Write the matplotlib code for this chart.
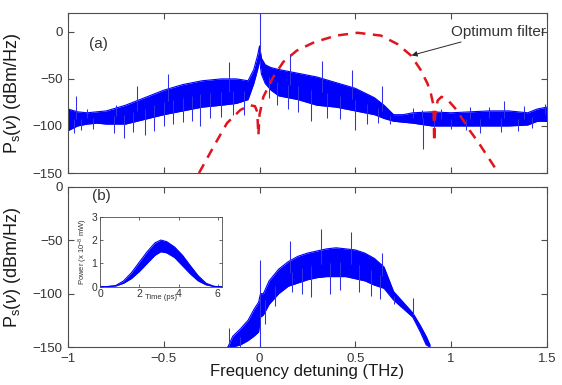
import numpy as np
import matplotlib
matplotlib.use("Agg")
import matplotlib.pyplot as plt

plt.rcParams['font.family'] = ['Liberation Sans', 'DejaVu Sans']
plt.rcParams['mathtext.fontset'] = 'custom'
plt.rcParams['mathtext.rm'] = 'Liberation Sans'
plt.rcParams['mathtext.it'] = 'Liberation Sans:italic'

# ---------------- data ----------------
# panel (a): envelope of the noisy spectrum
a_freq = [-1.0, -0.95, -0.9, -0.85, -0.8, -0.7, -0.6, -0.5, -0.4, -0.3, -0.2, -0.12,
          -0.06, -0.03, -0.01, 0.0, 0.01, 0.03, 0.06, 0.1, 0.2, 0.3, 0.4, 0.5, 0.6,
          0.65, 0.7, 0.75, 0.8, 0.9, 1.0, 1.1, 1.2, 1.3, 1.4, 1.45, 1.5]
a_upper = [-82, -85, -86, -85, -84, -78, -70, -62, -56, -52, -50, -50,
           -52, -40, -25, -15, -28, -35, -38, -40, -44, -48, -54, -60, -70,
           -78, -88, -88, -86, -85, -86, -85, -84, -84, -86, -82, -80]
a_lower = [-105, -100, -98, -97, -98, -98, -93, -88, -84, -80, -78, -76,
           -72, -55, -40, -30, -45, -55, -62, -68, -72, -78, -80, -84, -88,
           -92, -95, -96, -97, -100, -100, -100, -100, -100, -99, -95, -95]
a_spk_f = [-0.957, -0.64, -0.48, -0.16, 0.0, 0.16, 0.324, 0.482, 0.639, 0.80, 1.274,
           -0.9, -0.75, 0.85, 0.95, 1.1, 1.2, 1.38, 1.49,
           -0.97, -0.93, -0.87, -0.76, -0.71, -0.66, -0.6, -0.55, -0.5, -0.45, -0.4,
           -0.35, -0.31, -0.26, -0.2, -0.14, -0.08, 0.05, 0.09, 0.15, 0.2, 0.27, 0.35,
           0.42, 0.5, 0.56, 0.62, 0.68, 0.856, 0.91, 1.0, 1.08, 1.15, 1.26, 1.35, 1.42]
a_spk_v = [-68, -58, -45, -32, 20, -24, -31, -41, -58, -81, -74,
           -82, -78, -83, -82, -80, -80, -79, -77,
           -108, -104, -103, -107, -113, -106, -110, -105, -100, -98, -96,
           -95, -100, -92, -90, -88, -88, -70, -78, -82, -85, -95, -92,
           -93, -104, -98, -97, -98, -125, -110, -103, -104, -108, -106, -105, -102]

# optimum filter (red dashed)
f_freq = [-0.316, -0.24, -0.17, -0.10, -0.05, -0.024, -0.012, -0.006, 0.0, 0.02, 0.072,
          0.124, 0.194, 0.286, 0.40, 0.512, 0.634, 0.72, 0.79, 0.84, 0.877, 0.895,
          0.908, 0.912, 0.916, 0.93, 0.95, 0.99, 1.029, 1.098, 1.141, 1.225, 1.245]
f_val = [-150, -122, -97, -83, -78, -79, -85, -110, -88, -69, -48,
         -32, -20, -11, -4, -1, -4, -13, -25, -40, -55, -66,
         -78, -117, -90, -73, -69, -74, -83, -105, -117, -143, -150]

# panel (b): envelope of the filtered spectrum
b_freq = [-0.165, -0.14, -0.1, -0.06, -0.03, -0.005, 0.005, 0.02, 0.05, 0.1, 0.15, 0.2,
          0.25, 0.3, 0.35, 0.4, 0.45, 0.5, 0.55, 0.6, 0.65, 0.7, 0.75, 0.8, 0.84, 0.87, 0.89]
b_upper = [-150, -140, -133, -125, -115, -108, -100, -100, -88, -77, -70, -65,
           -62, -60, -58, -57, -58, -59, -62, -67, -75, -98, -108, -118, -130, -140, -148]
b_lower = [-150, -150, -148, -144, -140, -136, -122, -120, -110, -100, -93, -90,
           -87, -85, -84, -84, -84, -86, -88, -92, -95, -106, -114, -122, -136, -148, -150]
b_spk_f = [-0.16, 0.0, 0.16, 0.32, 0.48, 0.639, 0.80,
           -0.1, 0.0, 0.03, 0.08, 0.17, 0.22, 0.27, 0.37, 0.42, 0.52, 0.58, 0.63, 0.7]
b_spk_v = [-132, -68, -51, -39, -42, -62, -104,
           -150, -150, -128, -112, -98, -100, -103, -100, -97, -98, -102, -105, -110]

# inset: output pulse
t_ps = [0.0, 0.3, 0.8, 1.2, 1.6, 2.0, 2.4, 2.8, 3.1, 3.4, 3.8, 4.2, 4.6, 5.0, 5.4, 5.8, 6.0, 6.2]
p_upper = [0, 0, 0.05, 0.25, 0.6, 1.05, 1.5, 1.88, 2.0, 1.93, 1.7, 1.35, 0.9, 0.47, 0.15, 0.02, 0, 0]
p_lower = [0, 0, 0.03, 0.15, 0.35, 0.65, 1.0, 1.35, 1.5, 1.45, 1.25, 0.9, 0.55, 0.25, 0.08, 0.01, 0, 0]

xticks = [-1, -0.5, 0, 0.5, 1, 1.5]
xticklabels = ['−1', '−0.5', '0', '0.5', '1', '1.5']

# ---------------- figure ----------------
BLUE = '#0000ff'
SPK = '#3030e8'
RED = '#e0141c'
FRAME = '0.3'

fig = plt.figure(figsize=(5.62, 3.85), dpi=100)
axA = fig.add_axes([0.121, 0.5506, 0.852, 0.4156])
axB = fig.add_axes([0.121, 0.0987, 0.852, 0.4156])


def style(ax):
    ax.tick_params(direction='in', top=True, right=True, length=4, width=0.8,
                   labelsize=9.5, colors=FRAME, labelcolor='0.2', pad=4)
    for s in ax.spines.values():
        s.set_color(FRAME)
        s.set_linewidth(0.8)


def spectrum(ax, fr, up, lo, sf, sv):
    fr = np.asarray(fr); up = np.asarray(up); lo = np.asarray(lo)
    ax.fill_between(fr, lo, up, color=BLUE, lw=0, zorder=2)
    ax.plot(fr, up, color=BLUE, lw=0.8, zorder=2)
    ax.plot(fr, lo, color=BLUE, lw=0.8, zorder=2)
    mid = (np.interp(sf, fr, up) + np.interp(sf, fr, lo)) / 2
    ax.vlines(sf, mid, sv, color=SPK, lw=0.75, zorder=2)


# panel (a)
spectrum(axA, a_freq, a_upper, a_lower, a_spk_f, a_spk_v)
axA.plot(f_freq, f_val, color=RED, lw=1.8, ls=(0, (4, 3)), zorder=3)
axA.set_xlim(-1, 1.5)
axA.set_ylim(-150, 20)
axA.set_yticks([-150, -100, -50, 0])
axA.set_yticklabels(['−150', '−100', '−50', '0'])
axA.set_xticks(xticks)
axA.set_xticklabels([])
axA.text(-0.84, -13, '(a)', fontsize=11, color='0.2', va='center', ha='center')
ann = axA.annotate('Optimum filter', xy=(0.794, -25), xytext=(1.0, 0),
                   fontsize=11, color='0.2', va='center', ha='left',
                   arrowprops=dict(arrowstyle='-|>', color='0.15', lw=0.7,
                                   mutation_scale=8, shrinkA=1, shrinkB=0))
ann.set_clip_on(True)
axA.set_ylabel(r'P$_{\rm s}$($\nu$) (dBm/Hz)', fontsize=13, color='0.1')
axA.yaxis.set_label_coords(-0.095, 0.5)
style(axA)

# panel (b)
spectrum(axB, b_freq, b_upper, b_lower, b_spk_f, b_spk_v)
axB.set_xlim(-1, 1.5)
axB.set_ylim(-150, 0)
axB.set_yticks([-150, -100, -50, 0])
axB.set_yticklabels(['−150', '−100', '−50', '0'])
axB.set_xticks(xticks)
axB.set_xticklabels(xticklabels)
axB.text(-0.824, -8, '(b)', fontsize=11, color='0.2', va='center', ha='center')
axB.set_ylabel(r'P$_{\rm s}$($\nu$) (dBm/Hz)', fontsize=13, color='0.1')
axB.yaxis.set_label_coords(-0.095, 0.5)
axB.set_xlabel('Frequency detuning (THz)', fontsize=12, color='0.1')
axB.xaxis.set_label_coords(0.5, -0.105)
style(axB)

# inset
axI = fig.add_axes([0.178, 0.2553, 0.2165, 0.1818])
axI.fill_between(t_ps, p_lower, p_upper, color=BLUE, lw=0)
axI.plot(t_ps, p_upper, color=BLUE, lw=0.8)
axI.plot(t_ps, p_lower, color=BLUE, lw=0.8)
axI.set_xlim(0, 6.2)
axI.set_ylim(0, 3)
axI.set_xticks([0, 2, 4, 6])
axI.set_yticks([0, 1, 2, 3])
axI.tick_params(direction='in', top=True, right=True, length=2.5, width=0.6,
                labelsize=7.5, colors=FRAME, labelcolor='0.2', pad=2)
for s in axI.spines.values():
    s.set_color(FRAME)
    s.set_linewidth(0.6)
axI.set_xlabel('Time (ps)', fontsize=5.5, color='0.2', labelpad=-4)
axI.set_ylabel(r'Power (x 10$^{-8}$ mW)', fontsize=5.5, color='0.2', labelpad=1)

fig.savefig('out.png', dpi=100)
